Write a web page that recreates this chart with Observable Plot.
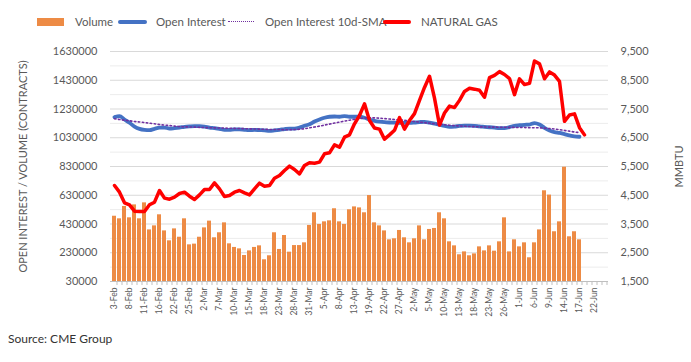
<!DOCTYPE html>
<html>
<head>
<meta charset="utf-8">
<script src="https://cdn.jsdelivr.net/npm/d3@7"></script>
<script src="https://cdn.jsdelivr.net/npm/@observablehq/plot@0.6"></script>
<style>
  body { margin: 0; background: #fff; font-family: Lato, sans-serif; }
  #wrap { position: relative; width: 691px; height: 362px; overflow: hidden; }
  #legend { position: relative; height: 40px; color: #595959; font-size: 11.5px; }
  #legend .sw { position: absolute; }
  #legend .lt { position: absolute; top: 15px; line-height: 14px; white-space: nowrap; }
  #chart svg { display: block; }
  #caption { position: absolute; left: 8px; top: 331px; font-size: 12px; color: #333; }
</style>
</head>
<body>
<div id="wrap">
  <div id="legend"></div>
  <div id="chart"></div>
  <div id="caption">Source: CME Group</div>
</div>
<script>
// ---- data ----
const dates = [
  "3-Feb","4-Feb","7-Feb","8-Feb","9-Feb","10-Feb","11-Feb","14-Feb","15-Feb","16-Feb",
  "17-Feb","18-Feb","22-Feb","23-Feb","24-Feb","25-Feb","28-Feb","1-Mar","2-Mar","3-Mar",
  "4-Mar","7-Mar","8-Mar","9-Mar","10-Mar","11-Mar","14-Mar","15-Mar","16-Mar","17-Mar",
  "18-Mar","21-Mar","22-Mar","23-Mar","24-Mar","25-Mar","28-Mar","29-Mar","30-Mar","31-Mar",
  "1-Apr","4-Apr","5-Apr","6-Apr","7-Apr","8-Apr","11-Apr","12-Apr","13-Apr","14-Apr",
  "18-Apr","19-Apr","20-Apr","21-Apr","22-Apr","25-Apr","26-Apr","27-Apr","28-Apr","29-Apr",
  "2-May","3-May","4-May","5-May","6-May","9-May","10-May","11-May","12-May","13-May",
  "16-May","17-May","18-May","19-May","20-May","23-May","24-May","25-May","26-May","27-May",
  "31-May","1-Jun","2-Jun","3-Jun","6-Jun","7-Jun","8-Jun","9-Jun","10-Jun","13-Jun",
  "14-Jun","15-Jun","16-Jun","17-Jun","20-Jun","21-Jun","22-Jun","23-Jun","24-Jun"
];
const xTickLabels = [
  "3-Feb","8-Feb","11-Feb","16-Feb","22-Feb","25-Feb","2-Mar","7-Mar","10-Mar","15-Mar",
  "18-Mar","23-Mar","28-Mar","31-Mar","5-Apr","8-Apr","13-Apr","19-Apr","22-Apr","27-Apr",
  "2-May","5-May","10-May","13-May","18-May","23-May","26-May","1-Jun","6-Jun","9-Jun",
  "14-Jun","17-Jun","22-Jun"
];
const volume = [
  484000,466000,552000,473000,563000,466000,577000,389000,417000,494000,
  382000,313000,396000,338000,466000,285000,290000,338000,403000,450000,
  334000,369000,438000,292000,267000,257000,211000,243000,267000,278000,
  181000,209000,369000,253000,350000,234000,280000,280000,299000,420000,
  508000,427000,445000,452000,536000,445000,427000,529000,549000,542000,
  508000,628000,438000,417000,382000,320000,327000,385000,334000,299000,
  327000,417000,320000,392000,399000,508000,466000,306000,278000,216000,
  236000,209000,222000,271000,243000,278000,241000,306000,473000,236000,
  320000,271000,299000,195000,299000,389000,661000,631000,376000,445000,
  825000,341000,376000,320000
];
const openInterest = [
  1173000,1180000,1157000,1134000,1108000,1092000,1085000,1083000,1092000,1100000,
  1101000,1094000,1097000,1101000,1106000,1109000,1111000,1111000,1108000,1101000,
  1097000,1092000,1085000,1085000,1088000,1088000,1085000,1083000,1085000,1083000,
  1081000,1078000,1081000,1085000,1090000,1094000,1094000,1101000,1113000,1124000,
  1143000,1157000,1169000,1176000,1178000,1176000,1180000,1176000,1176000,1176000,
  1169000,1157000,1148000,1142000,1138000,1136000,1135000,1134000,1134000,1134000,
  1136000,1139000,1141000,1135000,1128000,1120000,1112000,1106000,1108000,1112000,
  1114000,1115000,1113000,1109000,1106000,1103000,1100000,1097000,1097000,1104000,
  1113000,1117000,1120000,1122000,1132000,1122000,1099000,1081000,1069000,1064000,
  1055000,1046000,1039000,1037000
];
const openInterestSma = [
  1162000,1157000,1152000,1148000,1143000,1140000,1136000,1131000,1127000,1122000,
  1118000,1115000,1111000,1108000,1106000,1105000,1104000,1102000,1101000,1100000,
  1099000,1098000,1097000,1096000,1095000,1094000,1093000,1092000,1091000,1090000,
  1089000,1088000,1087000,1087000,1086000,1086000,1087000,1089000,1093000,1099000,
  1105000,1111000,1118000,1125000,1132000,1139000,1146000,1152000,1158000,1163000,
  1167000,1169000,1168000,1166000,1163000,1160000,1157000,1154000,1151000,1147000,
  1143000,1139000,1135000,1131000,1127000,1124000,1120000,1117000,1114000,1112000,
  1110000,1108000,1107000,1106000,1105000,1104000,1104000,1103000,1103000,1102000,
  1102000,1101000,1101000,1100000,1100000,1099000,1097000,1094000,1091000,1086000,
  1081000,1076000,1070000,1066000
];
const naturalGas = [
  4839,4607,4236,4167,3946,3935,3935,4167,4259,4665,
  4399,4364,4433,4561,4607,4468,4352,4514,4700,4700,
  4932,4723,4456,4491,4607,4665,4584,4514,4723,4920,
  4816,4839,5094,5187,5361,5512,5396,5245,5535,5628,
  5616,5651,5941,5976,6254,6172,6520,6601,6984,7274,
  7680,7100,6840,6800,6450,6600,6760,7200,6800,7100,
  7340,7800,8250,8640,7880,6940,7360,7600,7550,7800,
  8110,8220,8190,8150,7910,8590,8670,8800,8700,8560,
  8000,8550,8350,8390,9170,9070,8550,8790,8680,8460,
  7070,7290,7330,6850,6600
];
const leftTicks = [30000,230000,430000,630000,830000,1030000,1230000,1430000,1630000];
const rightTicks = [1500,3500,5500,7500,9500];
const seriesNames = ["Volume","Open Interest","Open Interest 10d-SMA","NATURAL GAS"];
const colors = ["#ED8B45","#4472C4","#7030A0","#FF0000"];

// ---- map the right (MMBTU) axis onto the left scale ----
const lMin = leftTicks[0], lMax = leftTicks[leftTicks.length - 1];
const rMin = rightTicks[0], rMax = rightTicks[rightTicks.length - 1];
const k = (lMax - lMin) / (rMax - rMin);
const toLeft = p => lMin + (p - rMin) * k;
const toRight = v => rMin + (v - lMin) / k;

const rows = dates.map((d, i) => ({
  date: d,
  volume: volume[i] ?? null,
  oi: openInterest[i] ?? null,
  sma: openInterestSma[i] ?? null,
  gas: naturalGas[i] == null ? null : toLeft(naturalGas[i])
}));
const minorGrid = d3.range(lMin + 100000, lMax, 200000);

// ---- legend ----
const legend = document.getElementById("legend");
const sw = [
  {left: 37, w: 27, style: `top:18px;height:8px;background:${colors[0]}`},
  {left: 118, w: 29, style: `top:20px;height:4px;border-radius:2px;background:${colors[1]}`},
  {left: 228, w: 26, style: `top:21px;height:0;border-top:1.5px dotted ${colors[2]}`},
  {left: 383, w: 28, style: `top:20px;height:4px;border-radius:2px;background:${colors[3]}`}
];
const textLeft = [75, 156, 265, 421];
seriesNames.forEach((n, i) => {
  const s = document.createElement("span");
  s.className = "sw";
  s.setAttribute("style", `left:${sw[i].left}px;width:${sw[i].w}px;${sw[i].style}`);
  legend.appendChild(s);
  const t = document.createElement("span");
  t.className = "lt";
  t.style.left = textLeft[i] + "px";
  t.textContent = n;
  legend.appendChild(t);
});

// ---- chart ----
const chart = Plot.plot({
  width: 691,
  height: 282,
  marginLeft: 110,
  marginRight: 83,
  marginTop: 11,
  marginBottom: 41,
  x: {type: "band", domain: dates, paddingInner: 0.27, paddingOuter: 0.135, label: null},
  y: {domain: [lMin, lMax], label: null},
  style: {fontFamily: "Lato, sans-serif", fontSize: "11px", color: "#595959", background: "#fff", overflow: "visible"},
  marks: [
    Plot.gridY(minorGrid, {stroke: "#ececec", strokeOpacity: 1}),
    Plot.gridY(leftTicks, {stroke: "#d9d9d9", strokeOpacity: 1}),
    Plot.barY(rows.filter(r => r.volume != null), {x: "date", y1: lMin, y2: "volume", fill: colors[0]}),
    Plot.line(rows.filter(r => r.oi != null), {x: "date", y: "oi", stroke: colors[1], strokeWidth: 3.8, curve: "monotone-x"}),
    Plot.line(rows.filter(r => r.sma != null), {x: "date", y: "sma", stroke: colors[2], strokeWidth: 1.6, strokeDasharray: "1.5,2.5", curve: "monotone-x"}),
    Plot.line(rows.filter(r => r.gas != null), {x: "date", y: "gas", stroke: colors[3], strokeWidth: 3.5, strokeLinejoin: "round"}),
    Plot.ruleY([lMin], {stroke: "#bfbfbf"}),
    Plot.axisX(dates, {tickSize: 4, tickFormat: () => "", stroke: "#bfbfbf", dx: 2.5, label: null}),
    Plot.axisX(xTickLabels, {tickSize: 0, tickPadding: 6, tickRotate: -90, fontSize: 8.5, fill: "#595959", label: null}),
    Plot.axisY(leftTicks, {anchor: "left", tickSize: 0, tickPadding: 13, tickFormat: d3.format("d"),
      label: "OPEN INTEREST / VOLUME (CONTRACTS)", labelArrow: "none", labelAnchor: "center", labelOffset: 91, fontSize: 11}),
    Plot.axisY(leftTicks, {anchor: "right", tickSize: 0, tickPadding: 12, tickFormat: d => d3.format(",")(toRight(d)),
      label: "MMBTU", labelArrow: "none", labelAnchor: "center", labelOffset: 74, fontSize: 11})
  ]
});
document.getElementById("chart").appendChild(chart);
</script>
</body>
</html>
